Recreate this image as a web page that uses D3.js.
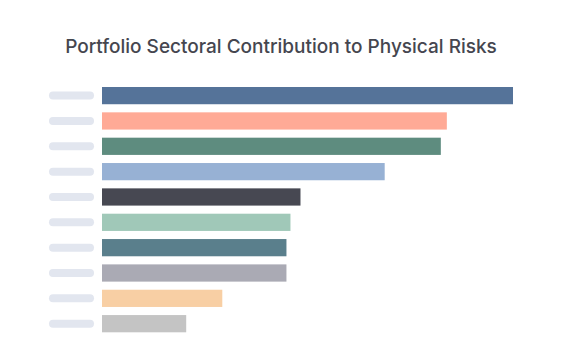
<!DOCTYPE html>
<html>
<head>
<meta charset="utf-8">
<script src="https://cdn.jsdelivr.net/npm/d3@7"></script>
<style>
  html, body { margin: 0; padding: 0; background: #ffffff; }
  svg { display: block; }
</style>
</head>
<body>
<svg id="chart" width="576" height="360"></svg>
<script>
const title = "Portfolio Sectoral Contribution to Physical Risks";
const sectors = ["Sector 1","Sector 2","Sector 3","Sector 4","Sector 5","Sector 6","Sector 7","Sector 8","Sector 9","Sector 10"];
const values = [20.5, 17.2, 16.9, 14.1, 9.9, 9.4, 9.2, 9.2, 6.0, 4.2];
const colors = ["#557399","#ffaa96","#5e8c7f","#97b1d4","#474852","#a0c8b8","#5a7f8c","#aaaab4","#f8cfa4","#c4c4c4"];

const svg = d3.select("#chart");
const W = 576, H = 360;
const margin = {left: 102, right: 63, top: 87, bottom: 28};

const data = sectors.map((s, i) => ({sector: s, value: values[i], color: colors[i]}));

const x = d3.scaleLinear()
  .domain([0, d3.max(values)])
  .range([margin.left, W - margin.right]);

const y = d3.scaleBand()
  .domain(sectors)
  .range([margin.top, 332.3])
  .paddingInner(0.32)
  .paddingOuter(0);

svg.append("text")
  .attr("x", 281)
  .attr("y", 53)
  .attr("text-anchor", "middle")
  .attr("font-family", "Inter, 'Noto Sans', sans-serif")
  .attr("font-size", 19)
  .attr("font-weight", 500)
  .attr("fill", "#45464f")
  .text(title);

// placeholder labels (pills)
svg.append("g").selectAll("rect")
  .data(data)
  .join("rect")
  .attr("x", 49)
  .attr("y", d => y(d.sector) + y.bandwidth() / 2 - 4)
  .attr("width", 45)
  .attr("height", 8)
  .attr("rx", 4)
  .attr("fill", "#e2e6ef");

svg.append("g").selectAll("rect")
  .data(data)
  .join("rect")
  .attr("x", x(0))
  .attr("y", d => y(d.sector))
  .attr("width", d => x(d.value) - x(0))
  .attr("height", y.bandwidth())
  .attr("fill", d => d.color);
</script>
</body>
</html>
